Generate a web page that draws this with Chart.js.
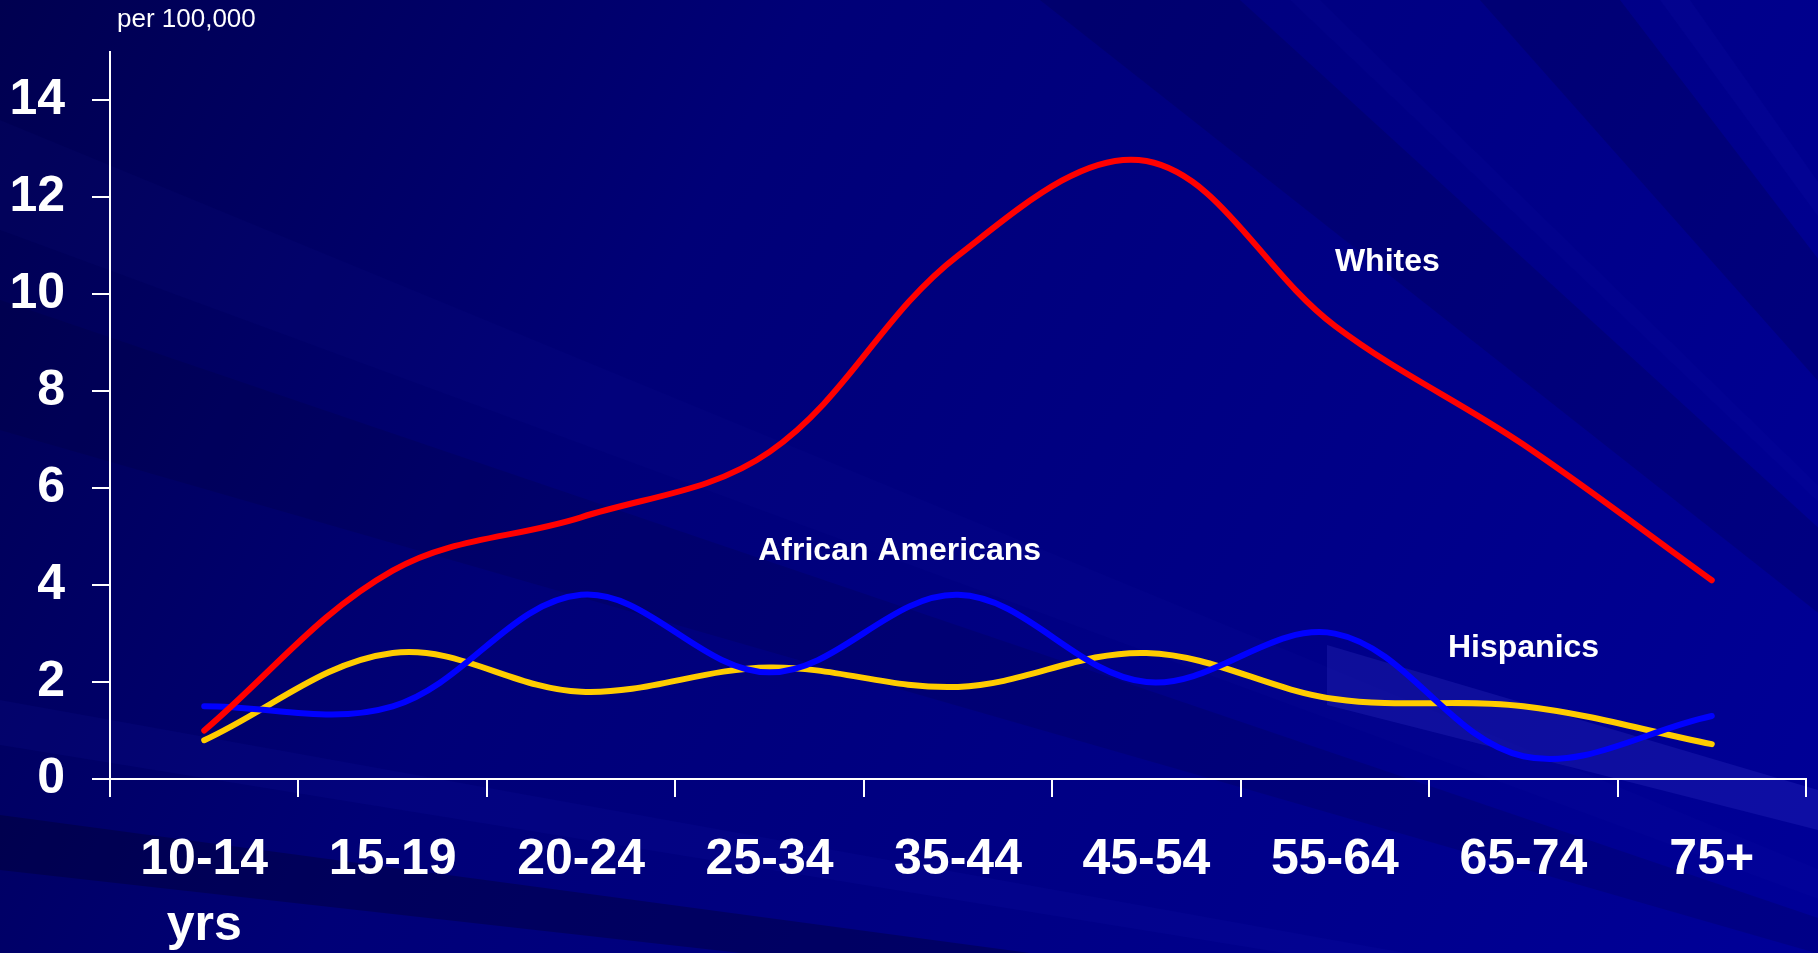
<!DOCTYPE html>
<html>
<head>
<meta charset="utf-8">
<title>Rates per 100,000 by age group</title>
<script src="https://cdn.jsdelivr.net/npm/chart.js@4.4.1/dist/chart.umd.min.js"></script>
<style>
  html, body { margin: 0; padding: 0; background: #000080; overflow: hidden; }
  #wrap { width: 1818px; height: 953px; position: relative; }
</style>
</head>
<body>
<div id="wrap"><canvas id="chart" width="1818" height="953"></canvas></div>
<script>
// ---------- Data ----------
const ageGroups = [["10-14", "yrs"], "15-19", "20-24", "25-34", "35-44", "45-54", "55-64", "65-74", "75+"];
const whites = [1.0, 4.3, 5.4, 6.75, 10.8, 12.75, 9.35, 6.9, 4.1];
const africanAmericans = [1.5, 1.5, 3.8, 2.2, 3.8, 2.0, 3.0, 0.47, 1.3];
const hispanics = [0.8, 2.6, 1.8, 2.3, 1.9, 2.6, 1.65, 1.5, 0.72];
const yTicks = [0, 2, 4, 6, 8, 10, 12, 14];
const unitLabel = "per 100,000";

// series names written next to the curves (x = category index, y = value)
const seriesNames = [
  { text: "Whites", at: 6.0, value: 10.48 },
  { text: "African Americans", at: 2.94, value: 4.52 },
  { text: "Hispanics", at: 6.6, value: 2.52 },
];

const FONT = "'Liberation Sans', Arial, Helvetica, sans-serif";

// ---------- Background: dark blue slide with soft diagonal streaks ----------
const slideBackground = {
  id: "slideBackground",
  beforeDraw(chart) {
    const { ctx, width, height } = chart;
    ctx.save();
    const g = ctx.createLinearGradient(0, 0, width, height);
    g.addColorStop(0, "#000050");
    g.addColorStop(0.35, "#000077");
    g.addColorStop(0.7, "#000088");
    g.addColorStop(1, "#000098");
    ctx.fillStyle = g;
    ctx.fillRect(0, 0, width, height);

    // rays coming from far lower right
    const ox = 2500, oy = 1150;
    const rays = [
      [[1040, 0], [1240, 0], "rgba(0,0,40,0.16)"],
      [[1290, 0], [1320, 0], "rgba(40,40,200,0.06)"],
      [[1480, 0], [1620, 0], "rgba(0,0,40,0.18)"],
      [[1660, 0], [1690, 0], "rgba(40,40,210,0.07)"],
      [[0, 120], [0, 230], "rgba(30,30,190,0.06)"],
      [[0, 300], [0, 430], "rgba(0,0,40,0.15)"],
      [[0, 700], [0, 745], "rgba(30,30,200,0.09)"],
      [[0, 815], [0, 870], "rgba(0,0,30,0.30)"],
    ];
    rays.forEach(([a, b, col]) => {
      ctx.beginPath();
      ctx.moveTo(ox, oy);
      ctx.lineTo(a[0], a[1]);
      ctx.lineTo(b[0], b[1]);
      ctx.closePath();
      ctx.fillStyle = col;
      ctx.fill();
    });

    // pale band in the lower right corner
    ctx.beginPath();
    ctx.moveTo(1327, 645);
    ctx.lineTo(1818, 790);
    ctx.lineTo(1818, 830);
    ctx.lineTo(1327, 705);
    ctx.closePath();
    ctx.fillStyle = "rgba(80,80,230,0.18)";
    ctx.fill();
    ctx.restore();
  },
};

// ---------- Text labels placed through the scales ----------
const curveLabels = {
  id: "curveLabels",
  afterDatasetsDraw(chart) {
    const { ctx, scales: { x, y } } = chart;
    ctx.save();
    ctx.fillStyle = "#ffffff";
    ctx.textBaseline = "alphabetic";
    ctx.textAlign = "left";
    ctx.font = `bold 32px ${FONT}`;
    seriesNames.forEach((s) => {
      ctx.fillText(s.text, x.getPixelForValue(s.at), y.getPixelForValue(s.value));
    });
    ctx.font = `26px ${FONT}`;
    ctx.fillText(unitLabel, chart.chartArea.left + 7, y.getPixelForValue(15.52));
    ctx.restore();
  },
};

const lineStyle = (color) => ({
  borderColor: color,
  backgroundColor: color,
  borderWidth: 6,
  pointRadius: 0,
  tension: 0.36,
  borderCapStyle: "round",
  borderJoinStyle: "round",
  fill: false,
});

new Chart(document.getElementById("chart"), {
  type: "line",
  data: {
    labels: ageGroups,
    datasets: [
      { label: "Whites", data: whites, ...lineStyle("#ff0000") },
      { label: "African Americans", data: africanAmericans, ...lineStyle("#0000ff") },
      { label: "Hispanics", data: hispanics, ...lineStyle("#ffcc00") },
    ],
  },
  options: {
    responsive: false,
    animation: false,
    devicePixelRatio: 1,
    layout: { padding: { top: 52, right: 12, left: 0, bottom: 0 } },
    plugins: { legend: { display: false }, tooltip: { enabled: false } },
    scales: {
      x: {
        offset: true,
        grid: { offset: true, drawOnChartArea: false, drawTicks: true, tickLength: 18, color: "#ffffff", lineWidth: 2 },
        border: { display: true, color: "#ffffff", width: 2 },
        ticks: { color: "#ffffff", padding: 30, maxRotation: 0, autoSkip: false, font: { family: FONT, size: 50, weight: "bold", lineHeight: 1.32 } },
        afterFit: (scale) => { scale.height = 174; },
      },
      y: {
        min: 0,
        max: 15,
        afterBuildTicks: (scale) => { scale.ticks = yTicks.map((v) => ({ value: v })); },
        grid: { drawOnChartArea: false, drawTicks: true, tickLength: 18, color: "#ffffff", lineWidth: 2 },
        border: { display: true, color: "#ffffff", width: 2 },
        ticks: { color: "#ffffff", padding: 27, font: { family: FONT, size: 50, weight: "bold", lineHeight: 0.8 } },
        afterFit: (scale) => { scale.width = 110; },
      },
    },
  },
  plugins: [slideBackground, curveLabels],
});
</script>
</body>
</html>
